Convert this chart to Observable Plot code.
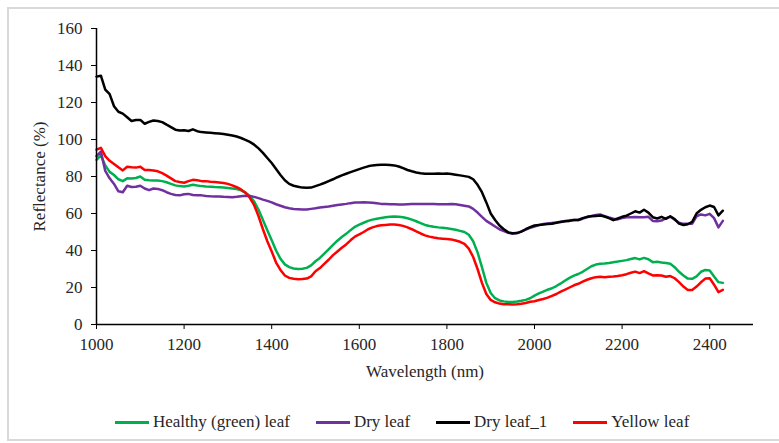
<!DOCTYPE html>
<html>
<head>
<meta charset="utf-8">
<script src="https://cdn.jsdelivr.net/npm/d3@7"></script>
<script src="https://cdn.jsdelivr.net/npm/@observablehq/plot@0.6"></script>
<style>
  html, body { margin: 0; padding: 0; background: #fff; overflow: hidden; }
  body { width: 779px; height: 443px; position: relative; font-family: "Liberation Serif", "Times New Roman", serif; }
  #frame { position: absolute; left: 7px; top: 7px; width: 800px; height: 434px; border: 2px solid #d9d9d9; box-sizing: border-box; }
  #chart { position: absolute; left: 0; top: 0; }
  #legend { position: absolute; top: 412px; left: 115px; display: flex; align-items: center; font-size: 17px; color: #262626; white-space: nowrap; }
  .item { display: flex; align-items: center; margin-right: 26px; }
  .sw { width: 34px; height: 3px; margin-right: 4px; }
</style>
</head>
<body>
<div id="frame"></div>
<div id="chart"></div>
<div id="legend"></div>
<script>
const wavelength = [
  1000,1010,1020,1030,1040,1050,1060,1070,1080,1090,
  1100,1110,1120,1130,1140,1150,1160,1170,1180,1190,
  1200,1210,1220,1230,1240,1250,1260,1270,1280,1290,
  1300,1310,1320,1330,1340,1350,1360,1370,1380,1390,
  1400,1410,1420,1430,1440,1450,1460,1470,1480,1490,
  1500,1510,1520,1530,1540,1550,1560,1570,1580,1590,
  1600,1610,1620,1630,1640,1650,1660,1670,1680,1690,
  1700,1710,1720,1730,1740,1750,1760,1770,1780,1790,
  1800,1810,1820,1830,1840,1850,1860,1870,1880,1890,
  1900,1910,1920,1930,1940,1950,1960,1970,1980,1990,
  2000,2010,2020,2030,2040,2050,2060,2070,2080,2090,
  2100,2110,2120,2130,2140,2150,2160,2170,2180,2190,
  2200,2210,2220,2230,2240,2250,2260,2270,2280,2290,
  2300,2310,2320,2330,2340,2350,2360,2370,2380,2390,
  2400,2410,2420,2430
];
const healthy = [
  89,91.4,86,82.5,80.8,78.5,77.5,79,78.9,79.2,
  80,78.3,78,77.9,77.8,77.5,76.9,76,75.2,74.8,
  74.6,75,75.5,75.1,74.8,74.6,74.5,74.3,74.2,74,
  73.8,73.5,73.2,72.5,71.3,69.5,66.5,62,56.5,51,
  45.5,40,35.5,32.5,31,30.3,30,30.1,30.6,32,
  34.2,36,38.3,40.6,43,45.3,47.3,49,51,52.8,
  54,55,56,56.7,57.2,57.6,58,58.3,58.4,58.3,
  58,57.4,56.7,55.8,54.8,53.8,53.2,52.8,52.5,52.3,
  52,51.6,51.2,50.6,50,48.5,45,39,31,22.5,
  17,14.2,13,12.5,12.2,12.2,12.4,12.8,13.3,14.2,
  15.6,16.8,17.8,18.8,19.6,20.8,22.2,23.8,25.2,26.4,
  27.3,28.5,30,31.5,32.4,32.8,33,33.3,33.7,34,
  34.4,34.8,35.4,35.9,35.2,36,35.3,33.7,33.9,33.5,
  33.2,32.8,31,28.5,26.5,24.8,24.7,26,28.5,29.5,
  29.2,26,22.9,22.5
];
const dryLeaf = [
  91,93.5,83,79,76,72,71.5,75,74.3,74.5,
  75,73.5,72.6,73.5,73.3,72.6,71.5,70.6,70,69.8,
  70.4,70.6,70,69.8,69.8,69.5,69.3,69.2,69.2,69,
  68.9,68.8,69,69.3,69.6,69.5,69,68.3,67.5,66.8,
  66,65,64.2,63.4,62.8,62.4,62.3,62.2,62.2,62.5,
  62.8,63.2,63.5,63.8,64.2,64.6,64.9,65.2,65.6,65.9,
  66,66.1,66,65.8,65.5,65.2,65.1,65,65,64.9,
  64.9,65,65.1,65.2,65.2,65.2,65.2,65.1,65,65,
  65,65.2,65,64.6,64.2,63.8,62.5,60.5,58.2,56,
  54.5,53,51.5,50.5,49.6,49.1,49.4,50.3,51.3,52.2,
  53,53.7,54.3,54.6,54.9,55.2,55.6,56,56.3,56.5,
  56.5,57.2,58,58.7,59.2,59.5,58.5,57.8,57.2,56.8,
  57.5,58,58,58.1,58,58,58.2,56,55.8,56.2,
  57.5,58.2,56.6,55,54.4,54.4,54.5,58.5,59.5,59,
  59.8,57.5,52.5,56
];
const dryLeaf1 = [
  134,134.5,127,124.5,118,115,114,112,110,110.5,
  110.6,108.5,109.5,110.3,110,109.4,108,106.7,105.3,104.9,
  105,104.6,105.5,104.5,104,103.8,103.6,103.4,103.2,103,
  102.6,102.2,101.6,100.8,99.8,98.7,97.2,95.2,92.8,90,
  87.3,84,80.8,78,76,75,74.5,74,73.9,74,
  74.8,75.6,76.5,77.5,78.5,79.6,80.6,81.5,82.4,83.2,
  84,84.8,85.5,86,86.2,86.3,86.3,86.2,86,85.4,
  84.5,83.5,82.8,82.2,81.8,81.5,81.5,81.5,81.6,81.5,
  81.6,81.4,81,80.6,80.2,79.8,78.5,75.5,71.5,66,
  60,56.5,53.5,51.5,49.8,49.3,49.4,50.2,51.5,52.6,
  53.5,53.8,54,54.3,54.5,55,55.4,55.8,56,56.5,
  56.5,57.5,58.2,58.5,58.7,58.9,58.4,57.5,56.4,57.3,
  58.2,58.8,60,61.2,60.5,62,60.5,58,57.3,58.2,
  57.1,58.5,57,54.5,53.8,54.2,55.5,60,62,63.4,
  64.3,63.5,59,61.5
];
const yellowLeaf = [
  94.5,95.5,91,88.5,86.8,85,83.3,85.3,85,84.8,
  85.3,83.5,83.5,83.2,82.8,81.8,80.5,79,77.5,77,
  76.6,77.5,78.2,78,77.5,77.5,77.2,77,76.8,76.5,
  76,75.2,74.2,73,71.2,68.5,64.5,58.5,51.5,45,
  39.5,33.5,29.5,26.5,25.2,24.7,24.5,24.6,24.8,26,
  28.8,30.5,32.8,35,37.5,39.5,41.5,43.3,45.5,47.5,
  48.7,50,51.5,52.5,53.2,53.6,53.8,54,54,53.8,
  53.3,52.5,51.5,50.3,49.2,48.2,47.5,47,46.6,46.4,
  46.2,46,45.4,44.7,43.6,41,36.5,30,22.5,16.5,
  13.3,12,11.3,11,10.9,10.8,10.9,11.2,11.6,12.3,
  12.6,13.2,13.8,14.5,15.5,16.5,17.8,18.8,20,21.2,
  22,23.2,24.2,25,25.6,25.8,25.6,25.8,25.9,26.2,
  26.6,27.2,28,28.6,27.8,28.8,27.6,26.5,26.6,26.5,
  25.8,26.2,25,22.9,20.5,18.7,18.7,20.5,22.8,24.8,
  25,21.5,17.5,18.7
];
const seriesNames = ["Healthy (green) leaf", "Dry leaf", "Dry leaf_1", "Yellow leaf"];
const seriesColors = ["#00b050", "#7030a0", "#000000", "#ff0000"];
const seriesValues = [healthy, dryLeaf, dryLeaf1, yellowLeaf];
const xTicks = [1000, 1200, 1400, 1600, 1800, 2000, 2200, 2400];
const yTicks = [0, 20, 40, 60, 80, 100, 120, 140, 160];

const rows = [];
seriesNames.forEach((name, s) => {
  wavelength.forEach((w, i) => rows.push({series: name, w, v: seriesValues[s][i]}));
});

const chart = Plot.plot({
  width: 779,
  height: 392,
  marginTop: 28,
  marginLeft: 96,
  marginRight: 26,
  marginBottom: 68,
  style: {fontFamily: "'Liberation Serif', 'Times New Roman', serif", fontSize: "17px", color: "#262626", background: "transparent"},
  x: {domain: [1000, 2500]},
  y: {domain: [0, 160]},
  color: {domain: seriesNames, range: seriesColors},
  marks: [
    Plot.axisX({ticks: xTicks, tickSize: 5, tickPadding: 8, tickFormat: d => String(d), label: "Wavelength (nm)", labelArrow: "none", labelAnchor: "center", labelOffset: 52, stroke: "#000", fill: "#262626"}),
    Plot.axisY({ticks: yTicks, tickSize: 5, tickPadding: 9, tickFormat: d => String(d), label: "Reflectance (%)", labelArrow: "none", labelAnchor: "center", labelOffset: 64, stroke: "#000", fill: "#262626"}),
    Plot.lineY(rows, {x: "w", y: "v", z: "series", stroke: "series", strokeWidth: 2.5, strokeLinejoin: "round"}),
    Plot.ruleY([0], {stroke: "#000", strokeWidth: 1.5}),
    Plot.ruleX([1000], {stroke: "#000", strokeWidth: 1.5})
  ]
});
document.getElementById("chart").appendChild(chart);

const legend = document.getElementById("legend");
seriesNames.forEach((name, i) => {
  const item = document.createElement("div");
  item.className = "item";
  const sw = document.createElement("div");
  sw.className = "sw";
  sw.style.background = seriesColors[i];
  const label = document.createElement("span");
  label.textContent = name;
  item.appendChild(sw);
  item.appendChild(label);
  legend.appendChild(item);
});
</script>
</body>
</html>
